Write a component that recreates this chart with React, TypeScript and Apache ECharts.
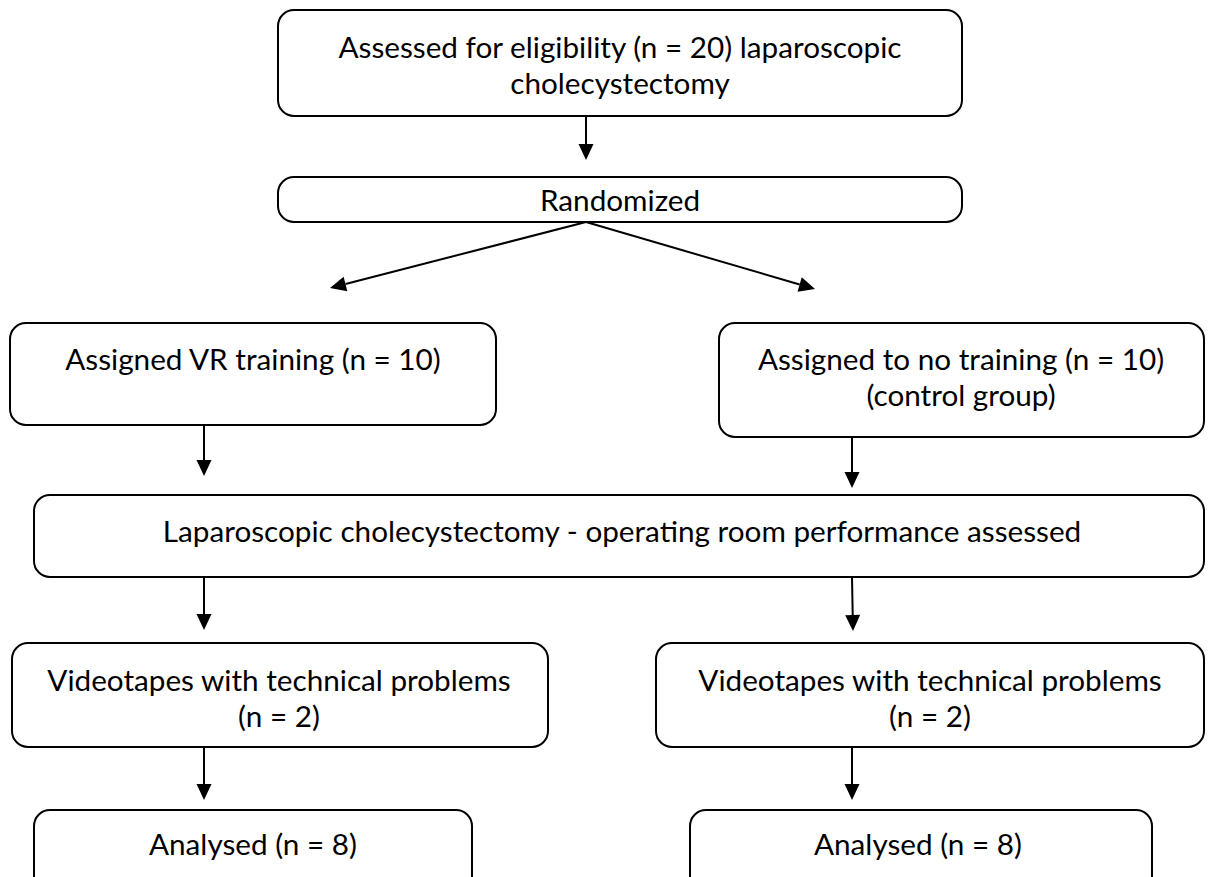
import React, { useEffect, useRef } from "react";
import * as echarts from "echarts";

// Box labels (lines of text)
const boxLabels: string[][] = [
  ["Assessed for eligibility (n = 20) laparoscopic", "cholecystectomy"],
  ["Randomized"],
  ["Assigned VR training (n = 10)"],
  ["Assigned to no training (n = 10)", "(control group)"],
  ["Laparoscopic cholecystectomy - operating room performance assessed"],
  ["Videotapes with technical problems", "(n = 2)"],
  ["Videotapes with technical problems", "(n = 2)"],
  ["Analysed (n = 8)"],
  ["Analysed (n = 8)"],
];

// Layout (x, y, w, h) and text centre / first line y
const boxGeom = [
  { x: 278, y: 10, w: 684, h: 106, cx: 620, ty: 46 },
  { x: 278, y: 177, w: 684, h: 45, cx: 620, ty: 199 },
  { x: 10, y: 323, w: 486, h: 102, cx: 253, ty: 358 },
  { x: 719, y: 323, w: 485, h: 114, cx: 961, ty: 358 },
  { x: 34, y: 495, w: 1170, h: 82, cx: 622, ty: 530 },
  { x: 12, y: 643, w: 536, h: 104, cx: 279, ty: 679 },
  { x: 656, y: 643, w: 548, h: 104, cx: 930, ty: 679 },
  { x: 34, y: 810, w: 438, h: 90, cx: 253, ty: 843 },
  { x: 690, y: 810, w: 462, h: 90, cx: 918, ty: 843 },
];

// Arrows: [x1, y1, x2(tip), y2(tip)]
const arrows: number[][] = [
  [586, 116, 586, 160],
  [586, 222, 330, 288],
  [586, 222, 815, 289],
  [204, 425, 204, 476],
  [852, 437, 852, 488],
  [204, 577, 204, 630],
  [852, 577, 853, 631],
  [204, 747, 204, 800],
  [852, 747, 852, 800],
];

const LINE_H = 36;
const FONT = "Lato, 'Open Sans', sans-serif";

function buildGraphics() {
  const els: any[] = [];
  boxGeom.forEach((g, i) => {
    els.push({
      type: "rect",
      shape: { x: g.x, y: g.y, width: g.w, height: g.h, r: 16 },
      style: { fill: "#ffffff", stroke: "#000000", lineWidth: 2 },
      z: 1,
    });
    boxLabels[i].forEach((line, j) => {
      els.push({
        type: "text",
        x: g.cx,
        y: g.ty + j * LINE_H,
        style: {
          text: line,
          fill: "#000000",
          font: `29.7px ${FONT}`,
          align: "center",
          verticalAlign: "middle",
        },
        z: 3,
      });
    });
  });
  arrows.forEach(([x1, y1, x2, y2]) => {
    const dx = x2 - x1;
    const dy = y2 - y1;
    const len = Math.sqrt(dx * dx + dy * dy);
    const ux = dx / len;
    const uy = dy / len;
    const headL = 16;
    const headW = 7.5;
    const bx = x2 - ux * headL;
    const by = y2 - uy * headL;
    els.push({
      type: "line",
      shape: { x1, y1, x2: bx, y2: by },
      style: { stroke: "#000000", lineWidth: 2 },
      z: 2,
    });
    els.push({
      type: "polygon",
      shape: {
        points: [
          [x2, y2],
          [bx - uy * headW, by + ux * headW],
          [bx + uy * headW, by - ux * headW],
        ],
      },
      style: { fill: "#000000" },
      z: 2,
    });
  });
  return els;
}

export default function App() {
  const ref = useRef<HTMLDivElement>(null);
  useEffect(() => {
    if (!ref.current) return;
    const chart = echarts.init(ref.current, undefined, { renderer: "svg" });
    chart.setOption({
      animation: false,
      backgroundColor: "#ffffff",
      graphic: { elements: buildGraphics() },
    });
    return () => chart.dispose();
  }, []);
  return (
    <div
      ref={ref}
      style={{ position: "fixed", left: 0, top: 0, width: 1215, height: 877, background: "#fff" }}
    />
  );
}
